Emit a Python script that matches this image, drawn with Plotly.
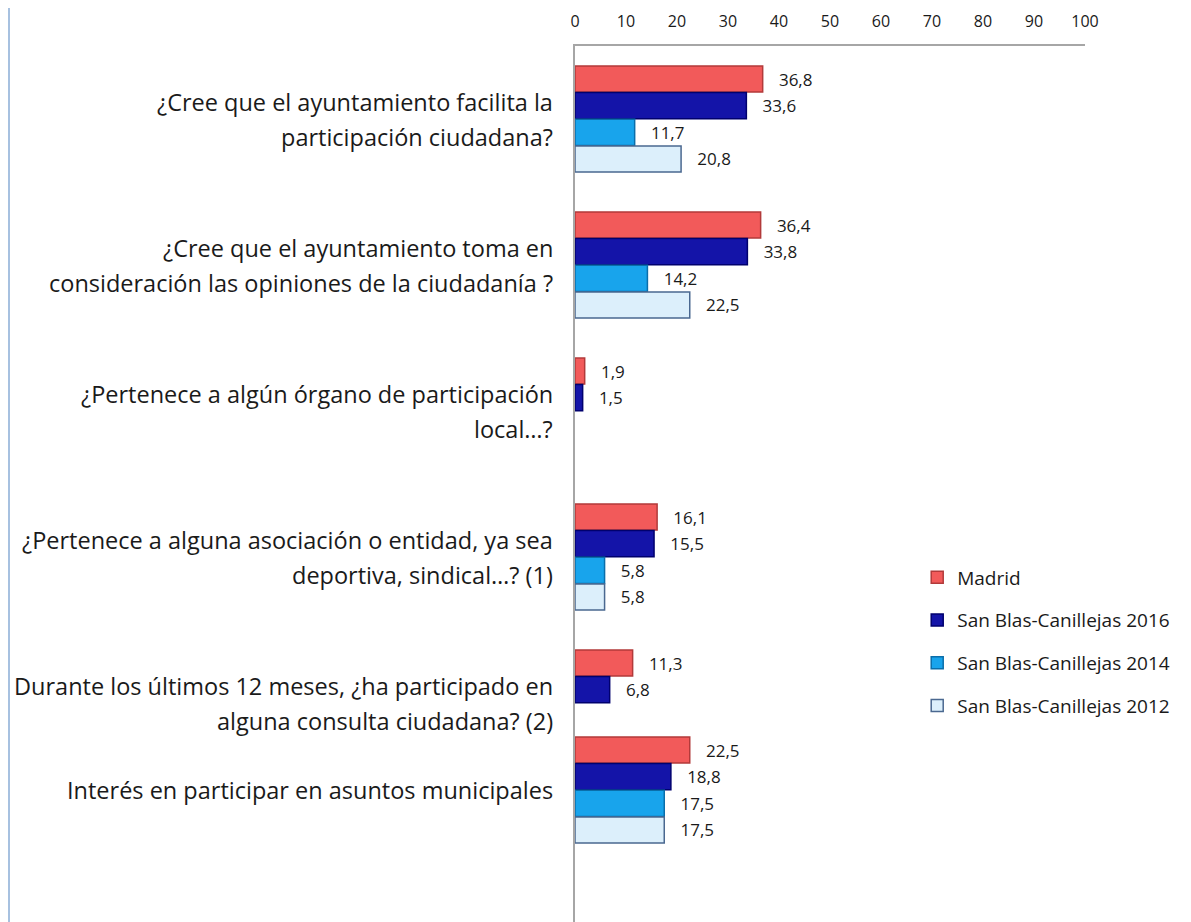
import plotly.graph_objects as go

# Preguntas (eje Y) y series
categories = [
    "¿Cree que el ayuntamiento facilita la<br>participación ciudadana?",
    "¿Cree que el ayuntamiento toma en<br>consideración las opiniones de la ciudadanía ?",
    "¿Pertenece a algún órgano de participación<br>local…?",
    "¿Pertenece a alguna asociación o entidad, ya sea<br>deportiva, sindical…? (1)",
    "Durante los últimos 12 meses, ¿ha participado en<br>alguna consulta ciudadana? (2)",
    "Interés en participar en asuntos municipales",
]
series_names = ["Madrid", "San Blas-Canillejas 2016", "San Blas-Canillejas 2014", "San Blas-Canillejas 2012"]
madrid = [36.8, 36.4, 1.9, 16.1, 11.3, 22.5]
sb_2016 = [33.6, 33.8, 1.5, 15.5, 6.8, 18.8]
sb_2014 = [11.7, 14.2, None, 5.8, None, 17.5]
sb_2012 = [20.8, 22.5, None, 5.8, None, 17.5]
x_ticks = [0, 10, 20, 30, 40, 50, 60, 70, 80, 90, 100]

series_values = [madrid, sb_2016, sb_2014, sb_2012]
fills = ["#F25A5A", "#1414A8", "#18A4EC", "#DCEFFB"]
lines = ["#B23A3A", "#00006E", "#0A6EAA", "#4A6890"]

FONT = "Open Sans"
TXT = "#1a1a1a"

fig = go.Figure()

# las 5 primeras preguntas van en el eje y, la última en y2 (mismo paso por categoría)
for name, vals, fc, lc in zip(series_names, series_values, fills, lines):
    for cats, v, yax, show in [(categories[:5], vals[:5], "y", True),
                               (categories[5:], vals[5:], "y2", False)]:
        fig.add_trace(go.Bar(
            y=cats, x=v, orientation="h", name=name,
            yaxis=yax, xaxis="x",
            legendgroup=name, showlegend=show,
            marker=dict(color=fc, line=dict(color=lc, width=1.5)),
            texttemplate="\u00a0\u00a0\u00a0%{x:.1f}",
            textposition="outside", cliponaxis=False,
            textfont=dict(size=17, color=TXT, family=FONT),
        ))

# etiquetas de categoría: líneas centradas entre sí, bloque alineado a la derecha
line_step = 35
for i, cat in enumerate(categories):
    parts = cat.split("<br>")
    n = len(parts)
    for j, part in enumerate(parts):
        fig.add_annotation(
            x=-20 / 510, xref="paper", xanchor="right",
            y=cat, yref="y" if i < 5 else "y2",
            yshift=((n - 1) / 2 - j) * line_step,
            text=part, showarrow=False,
            font=dict(size=23.5, family=FONT, color=TXT),
        )

# la página añade 8 px de margen, así que todo va desplazado 8 px
L, T = 567, 38
H_PLOT = 876.0
band = 146.0
top2 = 717.0 - 46.0

fig.update_layout(
    width=1183, height=914,
    barmode="group", bargap=0.27, bargroupgap=0.02,
    separators=",.",
    paper_bgcolor="white", plot_bgcolor="white",
    margin=dict(l=L, r=106, t=T, b=0),
    font=dict(family=FONT, color=TXT),
    xaxis=dict(
        range=[0, 100], side="top", tickvals=x_ticks,
        showgrid=False, zeroline=False,
        showline=True, linecolor="#a6a6a6", linewidth=2,
        ticks="", ticklabelstandoff=11,
        tickfont=dict(size=16, family=FONT, color=TXT),
        anchor="y",
    ),
    yaxis=dict(
        domain=[1 - 5 * band / H_PLOT, 1],
        categoryorder="array", categoryarray=categories[:5],
        range=[4.5, -0.5], showticklabels=False,
        showline=True, linecolor="#a6a6a6", linewidth=2,
        showgrid=False, zeroline=False, ticks="",
    ),
    yaxis2=dict(
        domain=[0, 1 - top2 / H_PLOT],
        categoryorder="array", categoryarray=categories[5:],
        range=[(922 - 790) / band, -(790 - 717) / band],
        showticklabels=False, anchor="x",
        showline=True, linecolor="#a6a6a6", linewidth=2,
        showgrid=False, zeroline=False, ticks="",
    ),
    legend=dict(
        x=0.671, y=0.415, xanchor="left", yanchor="top",
        font=dict(size=19, family=FONT, color=TXT),
        tracegroupgap=15, bgcolor="rgba(0,0,0,0)",
    ),
    shapes=[dict(type="line", xref="paper", yref="paper",
                 x0=-(L - 1) / 510, x1=-(L - 1) / 510, y0=-0.02, y1=1 + T / H_PLOT,
                 line=dict(color="#A7C1E0", width=2))],
)

fig.write_html("out.html")
